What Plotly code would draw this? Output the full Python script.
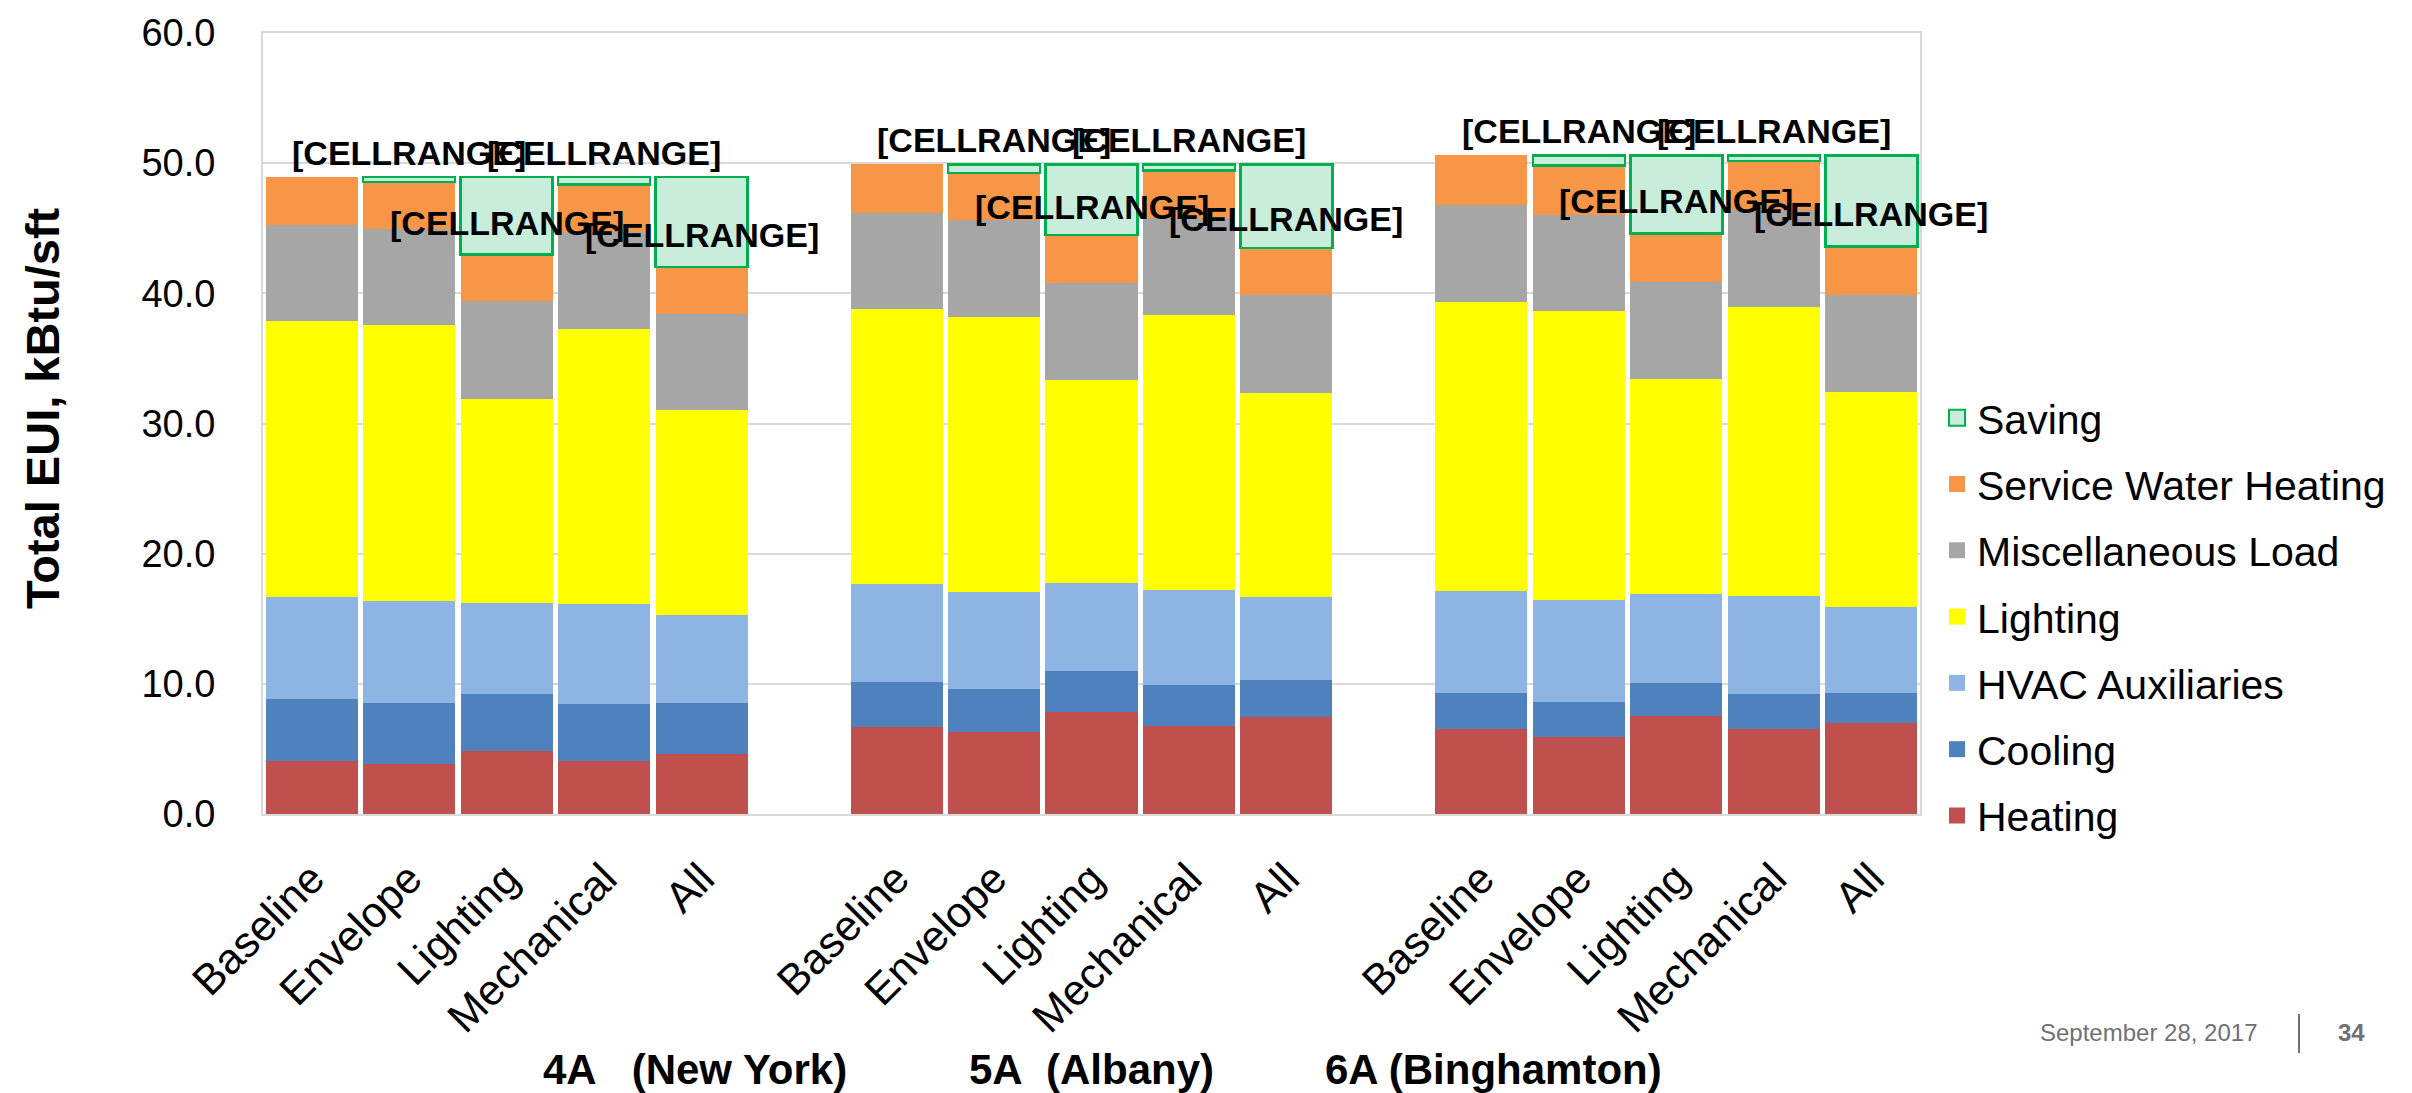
import plotly.graph_objects as go

# ---------------- data ----------------
groups = ["4A\u00a0\u00a0\u00a0(New York)", "5A\u00a0\u00a0(Albany)", "6A (Binghamton)"]
scenarios = ["Baseline", "Envelope", "Lighting", "Mechanical", "All"]

# values per bar, ordered group by group (Baseline, Envelope, Lighting, Mechanical, All)
heating = [4.07, 3.81, 4.84, 4.09, 4.58,
           6.70, 6.30, 7.83, 6.76, 7.45,
           6.50, 5.91, 7.53, 6.50, 6.99]
cooling = [4.73, 4.69, 4.35, 4.33, 3.92,
           3.44, 3.27, 3.17, 3.12, 2.81,
           2.82, 2.66, 2.53, 2.69, 2.28]
hvac_aux = [7.90, 7.86, 7.04, 7.68, 6.76,
            7.50, 7.48, 6.71, 7.30, 6.43,
            7.81, 7.84, 6.86, 7.53, 6.65]
lighting = [21.16, 21.17, 15.69, 21.17, 15.74,
            21.12, 21.12, 15.67, 21.14, 15.67,
            22.22, 22.22, 16.51, 22.24, 16.51]
misc_load = [7.42, 7.45, 7.48, 7.45, 7.45,
             7.42, 7.43, 7.42, 7.43, 7.50,
             7.47, 7.42, 7.43, 7.43, 7.43]
service_water = [3.64, 3.58, 3.58, 3.64, 3.59,
                 3.72, 3.65, 3.67, 3.68, 3.64,
                 3.77, 3.77, 3.74, 3.76, 3.74]
saving = [None, 0.36, 5.94, 0.56, 6.88,
          None, 0.65, 5.43, 0.47, 6.40,
          None, 0.77, 5.99, 0.44, 6.99]
label_text = "[CELLRANGE]"

y_ticks = [0, 10, 20, 30, 40, 50, 60]

# ---------------- styling ----------------
FONT = "Liberation Sans, Arial, sans-serif"
W, H = 2412, 1093
ML, MR, MT, MB = 255, 500, 25, 287
PW, PH = W - ML - MR, H - MT - MB

def px_x(px):
    return (px - ML) / PW

def px_y(py):
    return (H - MB - py) / PH

# bar positions: 5 bars per group, one empty slot between groups
xpos = [g * (len(scenarios) + 1) + i for g in range(len(groups)) for i in range(len(scenarios))]
ticktext = [s for _ in groups for s in scenarios]

series = [
    ("Heating", heating, "#C0504D"),
    ("Cooling", cooling, "#4F81BD"),
    ("HVAC Auxiliaries", hvac_aux, "#8EB4E3"),
    ("Lighting", lighting, "#FFFF00"),
    ("Miscellaneous Load", misc_load, "#A6A6A6"),
    ("Service Water Heating", service_water, "#F79646"),
]
SAVE_FILL, SAVE_LINE = "#C8EDDA", "#00B050"

fig = go.Figure()
for name, vals, col in series:
    fig.add_trace(go.Bar(
        x=xpos, y=vals, name=name, showlegend=False,
        marker=dict(color=col, line=dict(width=0)),
    ))
fig.add_trace(go.Bar(
    x=xpos, y=saving, name="Saving", showlegend=False,
    marker=dict(color=SAVE_FILL, line=dict(color=SAVE_LINE, width=2.5)),
))

# legend entries (square swatches), Saving on top
legend_items = [("Saving", SAVE_FILL, SAVE_LINE)] + [(n, c, c) for n, _, c in reversed(series)]
for name, fill, edge in legend_items:
    fig.add_trace(go.Scatter(
        x=[None], y=[None], mode="markers", name=name, legendgroup=name,
        marker=dict(symbol="square", size=22, color=fill,
                    line=dict(color=edge, width=2 if name == "Saving" else 0)),
        showlegend=True, hoverinfo="skip",
    ))

# data labels for the Saving series
annotations = []
for idx, x in enumerate(xpos):
    s = saving[idx]
    if s is None:
        continue
    total = sum(v[idx] for _, v, _ in series)
    scen = scenarios[idx % len(scenarios)]
    if scen in ("Envelope", "Mechanical"):
        yv, shift = total + s, 24
    elif scen == "Lighting":
        yv, shift = total + s / 2, -7
    else:
        yv, shift = total + s / 2, -13
    annotations.append(dict(
        x=x, y=yv, xref="x", yref="y", text="<b>" + label_text + "</b>",
        showarrow=False, xanchor="center", yanchor="middle", yshift=shift,
        font=dict(family=FONT, size=34, color="#000000"),
    ))

# y axis title
annotations.append(dict(
    x=px_x(35), y=px_y(400), xref="paper", yref="paper",
    text="<b>Total EUI, kBtu/sft</b>", textangle=-90, showarrow=False,
    xanchor="center", yanchor="middle",
    font=dict(family=FONT, size=47, color="#000000"),
))

# group labels
for gx, gl in zip([687, 1083, 1485], groups):
    annotations.append(dict(
        x=px_x(gx), y=px_y(1061), xref="paper", yref="paper",
        text="<b>" + gl + "</b>", showarrow=False,
        xanchor="center", yanchor="middle",
        font=dict(family=FONT, size=42, color="#000000"),
    ))

# footer
annotations.append(dict(
    x=px_x(2141), y=px_y(1024), xref="paper", yref="paper",
    text="September 28, 2017", showarrow=False, xanchor="center", yanchor="middle",
    font=dict(family=FONT, size=24, color="#707075"),
))
annotations.append(dict(
    x=px_x(2343), y=px_y(1024), xref="paper", yref="paper",
    text="<b>34</b>", showarrow=False, xanchor="center", yanchor="middle",
    font=dict(family=FONT, size=24, color="#707075"),
))
shapes = [dict(
    type="line", xref="paper", yref="paper",
    x0=px_x(2291), x1=px_x(2291), y0=px_y(1006), y1=px_y(1045),
    line=dict(color="#707075", width=2),
)]

fig.update_layout(
    width=W, height=H,
    margin=dict(l=ML, r=MR, t=MT, b=MB, autoexpand=False),
    paper_bgcolor="white", plot_bgcolor="white",
    barmode="stack", bargap=0.056,
    font=dict(family=FONT, color="#000000"),
    showlegend=True,
    legend=dict(
        traceorder="grouped", x=px_x(1929), xanchor="left",
        y=px_y(609), yanchor="middle", itemsizing="trace",
        font=dict(family=FONT, size=41, color="#000000"),
        tracegroupgap=10, bgcolor="rgba(0,0,0,0)",
    ),
    xaxis=dict(
        range=[-0.5, xpos[-1] + 0.5], tickmode="array", tickvals=xpos, ticktext=ticktext,
        tickangle=-45, tickfont=dict(family=FONT, size=43, color="#000000"),
        showgrid=False, showline=True, linecolor="#D9D9D9", linewidth=2, mirror=True,
        ticks="", ticklabelstandoff=20, zeroline=False,
    ),
    yaxis=dict(
        range=[0, 60], tickmode="array", tickvals=y_ticks,
        ticktext=[f"{v:.1f}" for v in y_ticks],
        tickfont=dict(family=FONT, size=38, color="#000000"),
        showgrid=True, gridcolor="#D9D9D9", gridwidth=2,
        showline=True, linecolor="#D9D9D9", linewidth=2, mirror=True,
        ticks="", ticklabelstandoff=38, zeroline=False,
    ),
    annotations=annotations, shapes=shapes,
)

fig.write_html("out.html")
